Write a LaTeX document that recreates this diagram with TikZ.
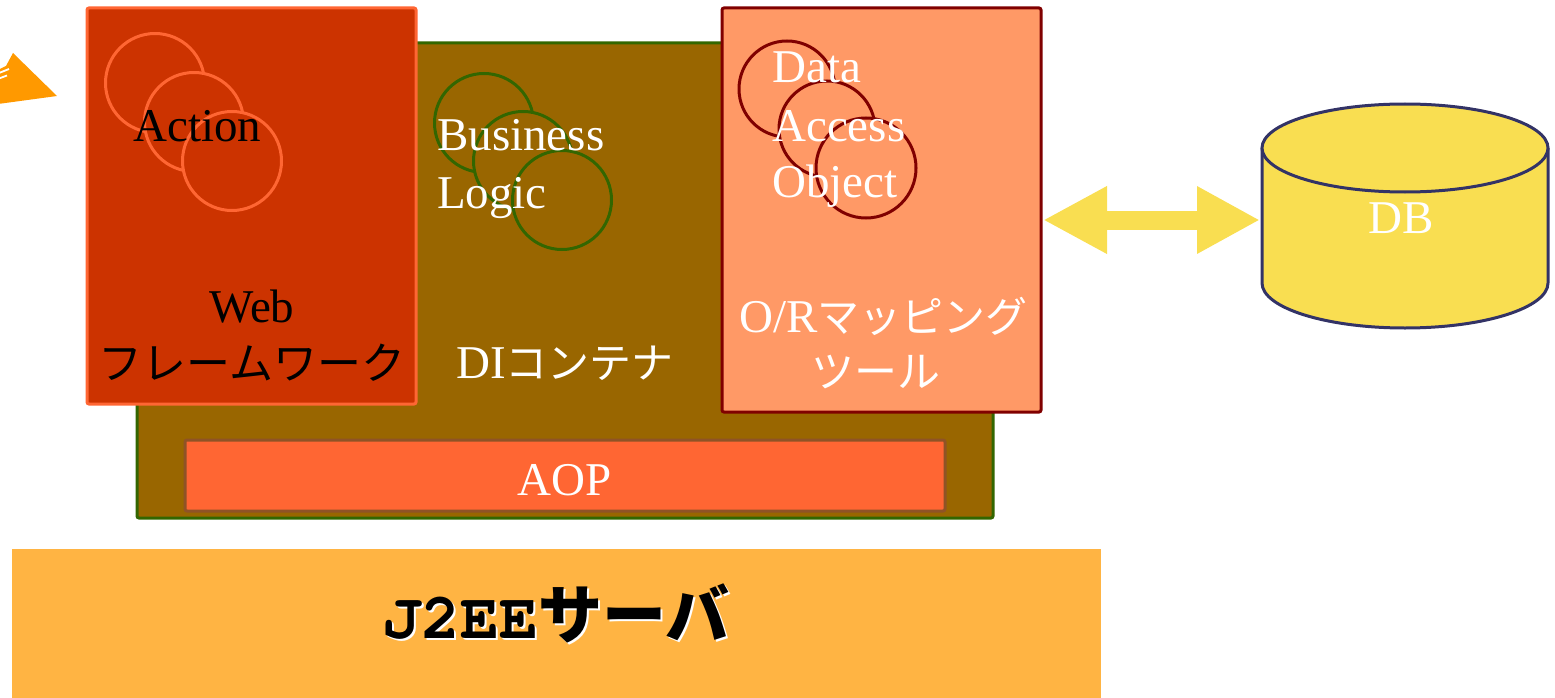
\documentclass[tikz,border=0pt]{standalone}
\usepackage{fontspec}
\setmainfont{Liberation Serif}
\newfontfamily\cursorb{texgyrecursor-bold.otf}
\newfontfamily\cjk{Noto Sans CJK JP}
\usetikzlibrary{arrows.meta}

\definecolor{webF}{HTML}{CC3300}
\definecolor{webD}{HTML}{FF6633}
\definecolor{diF}{HTML}{996600}
\definecolor{diD}{HTML}{336600}
\definecolor{ormF}{HTML}{FF9966}
\definecolor{ormD}{HTML}{800000}
\definecolor{aopF}{HTML}{FF6633}
\definecolor{aopD}{HTML}{8F5326}
\definecolor{srvF}{HTML}{FFB443}
\definecolor{dbF}{HTML}{F9DE51}
\definecolor{dbD}{HTML}{333366}
\definecolor{inO}{HTML}{FF9900}

\tikzset{
  layer/.style={draw, line width=3pt, rounded corners=2pt, inner sep=0pt,
    outer sep=0pt, anchor=north west},
  ring/.style={circle, draw, line width=3pt, minimum size=99pt, inner sep=0pt},
  lat/.style={font=\fontsize{47}{56}\selectfont, inner sep=0pt},
  jp/.style={font=\cjk\fontsize{43}{52}\selectfont, inner sep=0pt},
}
\newcommand\srvtext{{\cursorb\fontsize{65}{70}\selectfont J2EE}{\cjk\bfseries\fontsize{64}{70}\selectfont サーバ}}

\begin{document}
\begin{tikzpicture}[x=1pt,y=-1pt]
\useasboundingbox (0,0) rectangle (1555,698);

% incoming request arrow at the left edge
\fill[inO] (13,53) -- (57,96) -- (-2,104) -- (-2,70) -- (6,66) -- cycle;
\draw[white, line width=1.8pt] (-1,73) -- (9,69) (-1,78.5) -- (7,75.5);

% DI container (background layer)
\node[layer, fill=diF, draw=diD, minimum width=856pt, minimum height=475pt] (di) at (137,43) {};

% web framework
\node[layer, fill=webF, draw=webD, minimum width=329pt, minimum height=396pt] (web) at (87,8) {};

% O/R mapping tool
\node[layer, fill=ormF, draw=ormD, minimum width=319pt, minimum height=404pt] (orm) at (722,8) {};

% AOP bar
\node[layer, fill=aopF, draw=aopD, minimum width=760pt, minimum height=71pt] (aop) at (185,440) {};

% J2EE server
\node[anchor=north west, fill=srvF, minimum width=1089pt, minimum height=152pt,
  inner sep=0pt, outer sep=0pt] (srv) at (12,549) {};

% action objects
\node[ring, draw=webD, fill=webF] (ac1) at (155,83) {};
\node[ring, draw=webD, fill=webF] (ac2) at (194,122) {};
\node[ring, draw=webD, fill=webF] (ac3) at (232,161) {};

% business logic objects
\node[ring, draw=diD, fill=diF] (bl1) at (484,123) {};
\node[ring, draw=diD, fill=diF] (bl2) at (523,161) {};
\node[ring, draw=diD, fill=diF] (bl3) at (562,200) {};

% data access objects
\node[ring, draw=ormD, fill=ormF, minimum size=96pt] (da1) at (787,89) {};
\node[ring, draw=ormD, fill=ormF, minimum size=96pt] (da2) at (827,129) {};
\node[ring, draw=ormD, fill=ormF, minimum size=100pt] (da3) at (866,168) {};

% labels
\node[lat, anchor=base west] (actl) at (133,142) {Action};
\node[lat, anchor=base west, text=white] (bus1) at (437,150) {Business};
\node[lat, anchor=base west, text=white] (bus2) at (437,208) {Logic};
\node[lat, anchor=base west, text=white] (dao1) at (772,83) {Data};
\node[lat, anchor=base west, text=white] (dao2) at (772,142) {Access};
\node[lat, anchor=base west, text=white] (dao3) at (772,197) {Object};

\node[lat, anchor=base] (webl1) at (252,322) {Web};
\node[font=\cjk\fontsize{44}{52}\selectfont, inner sep=0pt, anchor=base] (webl2) at (252,379) {フレームワーク};

\node[lat, anchor=base west, text=white] (dil) at (456,378)
  {DI{\cjk\fontsize{42}{52}\selectfont コンテナ}};

\node[lat, anchor=base west, text=white] (orml1) at (739,332)
  {O/R{\cjk\fontsize{42}{52}\selectfont マッピング}};
\node[jp, anchor=base, text=white] (orml2) at (876,387) {ツール};

\node[lat, anchor=base, text=white] (aopl) at (565,495) {AOP};

% server label with a light drop shadow
\node[anchor=base, inner sep=0pt, text=white] (srvs) at (558,640) {\srvtext};
\node[anchor=base, inner sep=0pt] (srvl) at (556,638) {\srvtext};

% database cylinder
\node[minimum width=286pt, minimum height=224pt, inner sep=0pt, outer sep=0pt] (db) at (1405,220) {};
\path[fill=dbF, draw=dbD, line width=3pt] (1262,148) -- (1262,283)
  arc[start angle=180, end angle=0, x radius=143, y radius=45] -- (1548,148);
\draw[fill=dbF, draw=dbD, line width=3pt] (1405,148) ellipse [x radius=143, y radius=44];
\node[lat, anchor=base, text=white] (dbl) at (1401,233) {DB};

% data exchange between the mapping tool and the database
\draw[dbF, line width=19pt, shorten <=2pt, shorten >=2pt,
  {Triangle[length=64pt,width=63pt]}-{Triangle[length=63pt,width=63pt]}]
  (orm.east |- db.west) -- (db.west);
\end{tikzpicture}
\end{document}
